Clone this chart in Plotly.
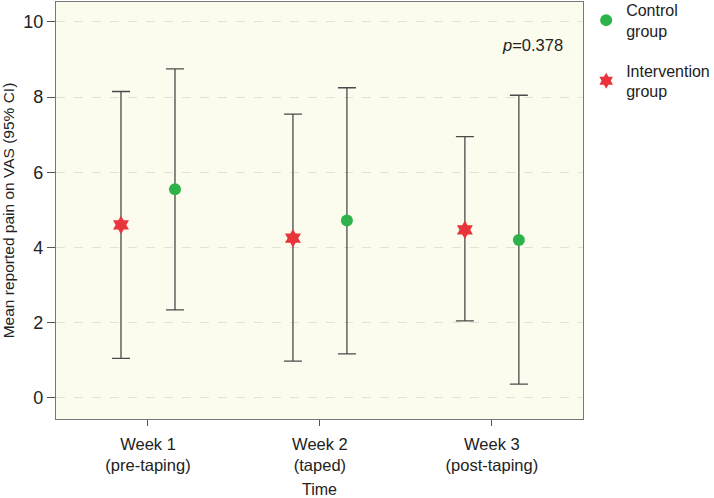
import plotly.graph_objects as go

weeks = [1, 2, 3]
week_labels = ["Week 1<br>(pre-taping)", "Week 2<br>(taped)", "Week 3<br>(post-taping)"]

interv_mean = [4.60, 4.25, 4.47]
interv_upper = [8.15, 7.55, 6.95]
interv_lower = [1.05, 0.98, 2.05]

control_mean = [5.55, 4.72, 4.20]
control_upper = [8.75, 8.25, 8.05]
control_lower = [2.34, 1.17, 0.37]

offset = 0.157
xi = [w - offset for w in weeks]
xc = [w + offset for w in weeks]

err_col = "#4a4a4a"
font_family = "Liberation Sans, Arial, sans-serif"

fig = go.Figure()
fig.add_trace(go.Scatter(
    x=xc, y=control_mean, mode="markers", name="Control<br>group",
    legendgroup="control",
    marker=dict(symbol="circle", size=12, color="#2db34a"),
    error_y=dict(type="data", symmetric=False,
                 array=[u - m for u, m in zip(control_upper, control_mean)],
                 arrayminus=[m - l for m, l in zip(control_mean, control_lower)],
                 color=err_col, thickness=1.3, width=9),
))
fig.add_trace(go.Scatter(
    x=xi, y=interv_mean, mode="markers", name="Intervention<br>group",
    legendgroup="intervention",
    marker=dict(symbol="hexagram", size=14, color="#e8343a"),
    error_y=dict(type="data", symmetric=False,
                 array=[u - m for u, m in zip(interv_upper, interv_mean)],
                 arrayminus=[m - l for m, l in zip(interv_mean, interv_lower)],
                 color=err_col, thickness=1.3, width=9),
))

fig.add_annotation(x=0.905, y=0.897, xref="paper", yref="paper",
                   xanchor="center", yanchor="middle",
                   text="<i>p</i>=0.378", showarrow=False,
                   font=dict(size=16.5, color="#222"))

fig.update_layout(
    width=714, height=498,
    margin=dict(l=56, r=131, t=2, b=79, autoexpand=False),
    paper_bgcolor="white",
    plot_bgcolor="#fcfcee",
    font=dict(family=font_family, color="#222"),
    showlegend=True,
    legend=dict(x=1.006, y=1.022, xanchor="left", yanchor="top",
                font=dict(size=16), bgcolor="rgba(0,0,0,0)",
                itemsizing="constant", tracegroupgap=16),
    xaxis=dict(range=[0.465, 3.53], tickvals=weeks, ticktext=week_labels,
               showgrid=False, zeroline=False, ticks="outside", ticklen=6,
               ticklabelstandoff=4,
               tickcolor="#555", showline=True, linecolor="#777", mirror=True,
               linewidth=1.3, tickfont=dict(size=16.5), automargin=False,
               title=dict(text="Time", font=dict(size=16), standoff=16)),
    yaxis=dict(range=[-0.56, 10.53], tickvals=[0, 2, 4, 6, 8, 10],
               showgrid=True, gridcolor="#e2e2d6", griddash="dash",
               zeroline=False, ticks="outside", ticklen=8, tickcolor="#555",
               showline=True, linecolor="#777", mirror=True, linewidth=1.3,
               tickfont=dict(size=18), automargin=False,
               title=dict(text="Mean reported pain on VAS (95% CI)",
                          font=dict(size=15.5), standoff=4)),
)

fig.write_html("out.html", config={"displayModeBar": False},
               post_script="document.body.style.margin='0';")
